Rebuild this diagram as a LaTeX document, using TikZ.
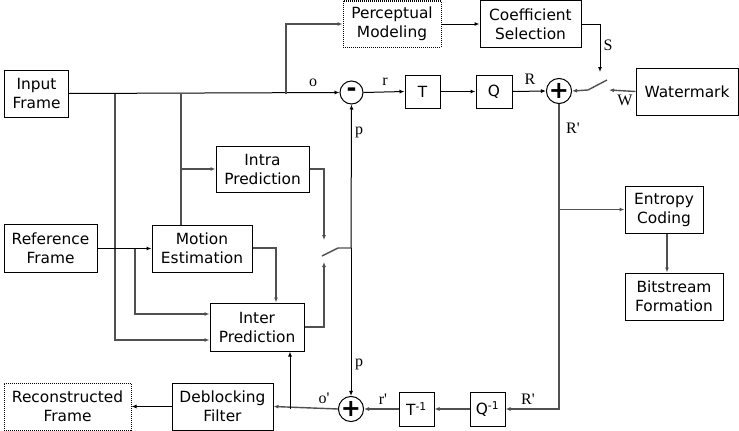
\documentclass[tikz,border=0pt]{standalone}
\usepackage{fontspec}
\setsansfont{DejaVu Sans}
\setmainfont{Liberation Serif}
\usepackage{xcolor}
\usetikzlibrary{arrows.meta,positioning}
\definecolor{wire}{HTML}{505050}

\tikzset{
    block/.style={draw, line width=1pt, align=center, inner sep=0pt,
        font=\sffamily\fontsize{15.4}{19}\selectfont},
    dotblock/.style={block, densely dotted},
    junction/.style={draw, circle, line width=1pt, minimum size=23pt, inner sep=0pt,
        font=\sffamily\bfseries\fontsize{24}{24}\selectfont},
    sig/.style={font=\fontsize{16}{16}\selectfont, inner sep=0pt},
    gw/.style={draw=wire, line width=1.4pt},
    bw/.style={draw=black, line width=1pt},
}

\begin{document}
\begin{tikzpicture}[x=1pt, y=-1pt, >={Latex[length=5pt,width=4pt]}]
    \useasboundingbox (0,0) rectangle (739,431);

    \node[block, minimum width=64pt, minimum height=47pt] (inp) at (36.5,93.5) {Input\\Frame};
    \node[dotblock, minimum width=98pt, minimum height=46pt] (perc) at (392,24) {Perceptual\\Modeling};
    \node[block, minimum width=101pt, minimum height=47pt] (coef) at (530.5,24) {Coefficient\\Selection};
    \node[block, minimum width=102pt, minimum height=47pt] (wm) at (687,91.5) {Watermark};
    \node[junction] (sub) at (351.5,92.5) {\raisebox{1pt}{-}};
    \node[block, minimum width=35pt, minimum height=33pt] (tr) at (422.5,91.5) {T};
    \node[block, minimum width=36pt, minimum height=33pt] (qu) at (494,91.5) {Q};
    \node[junction] (add) at (559,91) {+};
    \node[block, minimum width=93pt, minimum height=46pt] (intra) at (262.5,169) {Intra\\Prediction};
    \node[block, minimum width=93pt, minimum height=48pt] (ref) at (50.5,248) {Reference\\Frame};
    \node[block, minimum width=100pt, minimum height=47pt] (mot) at (202,248.5) {Motion\\Estimation};
    \node[block, minimum width=94pt, minimum height=48pt] (inter) at (257,327) {Inter\\Prediction};
    \node[block, minimum width=78pt, minimum height=47pt] (ent) at (664,209.5) {Entropy\\Coding};
    \node[block, minimum width=98pt, minimum height=47pt] (bit) at (674,296.5) {Bitstream\\Formation};
    \node[block, minimum width=35pt, minimum height=34pt] (qi) at (487.5,409) {Q\textsuperscript{-1}};
    \node[block, minimum width=35pt, minimum height=34pt] (ti) at (416.5,409) {T\textsuperscript{-1}};
    \node[junction] (addb) at (351,409) {+};
    \node[block, minimum width=101pt, minimum height=47pt] (deb) at (222.5,406.5) {Deblocking\\Filter};
    \node[dotblock, minimum width=127pt, minimum height=47pt] (rec) at (67.5,406.5) {Reconstructed\\Frame};

    \coordinate (b115) at (115,93.5);
    \coordinate (b181) at (181,93.5);
    \coordinate (b286) at (286,93.5);
    \coordinate (stip) at (600,72);
    \coordinate (sw1l) at (588,90);
    \coordinate (sw1r) at (607,80);
    \coordinate (wtip) at (609,90);
    \coordinate (pj) at (351,248);
    \coordinate (sw2r) at (338,248);
    \coordinate (sw2l) at (322,256);
    \coordinate (s2top) at (324,240);
    \coordinate (s2bot) at (324,262);
    \coordinate (b135) at (135,248.5);
    \coordinate (b560) at (560,209.5);
    \coordinate (b290) at (290,409);

    % forward path
    \draw[bw, ->] (inp.east) -- (sub.west);
    \draw[gw, ->] (b286) |- (perc.west);
    \draw[bw, ->] (perc) -- (coef);
    \draw[bw, ->] (coef.east) -| (stip);
    \draw[bw, ->] (sub.east) -- (tr.west);
    \draw[bw, ->] (tr) -- (qu);
    \draw[bw, ->] (qu.east) -- (add.west);
    \draw[gw, ->] (wm.west) -- (wtip);
    \draw[gw] (sw1l) -- (sw1r);
    \draw[gw, ->] (sw1l) -- (add.east);
    \draw[gw, ->] (add.south) |- (qi.east);
    \draw[gw, ->] (b560) -- (ent.west);
    \draw[gw, ->] ([xshift=3pt]ent.south) -- ([xshift=3pt]ent.south |- bit.north);

    % reconstruction loop
    \draw[gw, ->] (qi.west) -- (ti.east);
    \draw[gw, ->] (ti.west) -- (addb.east);
    \draw[gw, ->] (addb.west) -- (deb.east);
    \draw[bw, ->] (b290) -- (b290 |- inter.south);
    \draw[bw, ->] (deb.west) -- (rec.east);

    % prediction
    \draw[gw, ->] (b181) |- (intra.west);
    \draw[gw] (b181) -- (b181 |- mot.north);
    \draw[gw, ->] (b115) |- ([yshift=-13pt]inter.west);
    \draw[bw, ->] (ref.east |- b135) -- (mot.west |- b135);
    \draw[gw, ->] (b135) |- ([yshift=13pt]inter.west);
    \draw[gw, ->] (mot.east |- pj) -| (inter.north -| 276,0);
    \draw[gw, ->] (intra.east) -| (s2top);
    \draw[gw, ->] (inter.east) -| (s2bot);
    \draw[gw] (sw2l) -- (sw2r) -- (pj);
    \draw[bw, ->] (pj) -- (sub.south);
    \draw[bw, ->] (pj) -- (addb.north);

    % signal labels
    \node[sig] (lo) at (313,83) {o};
    \node[sig] (lr) at (385,82) {r};
    \node[sig] (lR) at (530,79) {R};
    \node[sig] (lS) at (608,45) {S};
    \node[sig] (lW) at (625,100) {W};
    \node[sig] (lRp) at (573,128) {R\textquotesingle};
    \node[sig] (lp) at (359,132) {p};
    \node[sig] (lpb) at (359,364) {p};
    \node[sig] (lop) at (324,398) {o\textquotesingle};
    \node[sig] (lrp) at (383,399) {r\textquotesingle};
    \node[sig] (lRpb) at (528,399) {R\textquotesingle};
\end{tikzpicture}
\end{document}
